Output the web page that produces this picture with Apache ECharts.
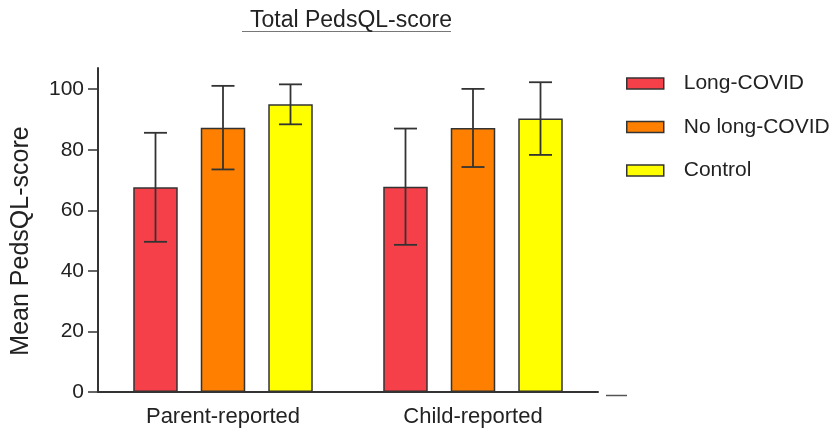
<!DOCTYPE html>
<html>
<head>
<meta charset="utf-8">
<script src="https://cdn.jsdelivr.net/npm/echarts@6/dist/echarts.min.js"></script>
<style>
  html, body { margin: 0; padding: 0; background: #fff; }
  #chart { width: 835px; height: 434px; }
</style>
</head>
<body>
<div id="chart"></div>
<script>
// Total PedsQL-score: mean ± SD per respondent type and group
const categories = ['Parent-reported', 'Child-reported'];
const groupNames = ['Long-COVID', 'No long-COVID', 'Control'];
const longCovidMean = [67.6, 67.8];
const longCovidSD = [18.0, 19.2];
const noLongCovidMean = [87.3, 87.2];
const noLongCovidSD = [13.8, 12.9];
const controlMean = [95.0, 90.3];
const controlSD = [6.6, 12.0];
const yTickValues = [0, 20, 40, 60, 80, 100];

const means = [longCovidMean, noLongCovidMean, controlMean];
const sds = [longCovidSD, noLongCovidSD, controlSD];
const colors = ['#f5404a', '#ff8000', '#ffff00'];

const FONT = "'Liberation Sans', Arial, Helvetica, sans-serif";
const TEXT = '#222';
const LINE = '#333';
const BAR_W = 44.5;
const BAR_GAP = 23;
const CAP_W = 23;

const chart = echarts.init(document.getElementById('chart'), null, { renderer: 'canvas' });

const barSeries = groupNames.map((name, g) => ({
  name: name,
  type: 'bar',
  barWidth: BAR_W,
  barGap: (BAR_GAP / BAR_W * 100).toFixed(1) + '%',
  data: means[g],
  itemStyle: { color: colors[g], borderColor: LINE, borderWidth: 1.5 },
  emphasis: { disabled: true },
  z: 2
}));

const errorSeries = groupNames.map((name, g) => ({
  type: 'custom',
  name: name + ' SD',
  data: categories.map((c, i) => [i, means[g][i], sds[g][i]]),
  encode: { x: 0, y: [1] },
  z: 5,
  silent: true,
  renderItem: function (params, api) {
    const idx = api.value(0);
    const m = api.value(1);
    const sd = api.value(2);
    const dx = (g - 1) * (BAR_W + BAR_GAP);
    const top = api.coord([idx, m + sd]);
    const bot = api.coord([idx, m - sd]);
    const x = top[0] + dx;
    const style = { stroke: LINE, lineWidth: 1.8 };
    return {
      type: 'group',
      children: [
        { type: 'line', shape: { x1: x, y1: top[1], x2: x, y2: bot[1] }, style: style },
        { type: 'line', shape: { x1: x - CAP_W / 2, y1: top[1], x2: x + CAP_W / 2, y2: top[1] }, style: style },
        { type: 'line', shape: { x1: x - CAP_W / 2, y1: bot[1], x2: x + CAP_W / 2, y2: bot[1] }, style: style }
      ]
    };
  }
}));

chart.setOption({
  animation: false,
  backgroundColor: '#fff',
  title: {
    text: 'Total PedsQL-score',
    left: 346,
    textAlign: 'center',
    top: 4,
    textStyle: { fontFamily: FONT, fontSize: 23, fontWeight: 'normal', color: TEXT }
  },
  graphic: [
    // title underline
    { type: 'line', shape: { x1: 242, y1: 31.5, x2: 451, y2: 31.5 }, style: { stroke: '#777', lineWidth: 1 }, silent: true },
    // short dash right of the x axis end
    { type: 'line', shape: { x1: 606, y1: 395.5, x2: 627, y2: 395.5 }, style: { stroke: '#555', lineWidth: 1.5 }, silent: true }
  ],
  legend: {
    data: groupNames,
    orient: 'vertical',
    left: 626,
    top: 73,
    padding: 0,
    itemWidth: 37,
    itemHeight: 11,
    itemGap: 22.5,
    icon: 'rect',
    selectedMode: false,
    itemStyle: { borderColor: LINE, borderWidth: 1.5 },
    textStyle: { fontFamily: FONT, fontSize: 21, color: TEXT, lineHeight: 20, padding: [0, 0, 0, 15] }
  },
  grid: { left: 98, right: 237, top: 68, bottom: 42, containLabel: false },
  xAxis: {
    type: 'category',
    data: categories,
    axisLine: { lineStyle: { color: LINE, width: 2 } },
    axisTick: { alignWithLabel: true, length: 5, lineStyle: { color: LINE, width: 1.5 } },
    axisLabel: { fontFamily: FONT, fontSize: 22, color: TEXT, margin: 14 },
    splitLine: { show: false }
  },
  yAxis: {
    type: 'value',
    min: 0,
    max: 107,
    interval: 20,
    name: 'Mean PedsQL-score',
    nameLocation: 'middle',
    nameGap: 64,
    nameTextStyle: { fontFamily: FONT, fontSize: 25, color: TEXT, padding: [0, 22, 0, 0] },
    axisLine: { show: true, lineStyle: { color: LINE, width: 2 } },
    axisTick: { show: true, length: 10, customValues: yTickValues, lineStyle: { color: LINE, width: 1.5 } },
    axisLabel: {
      fontFamily: FONT, fontSize: 21, color: TEXT, margin: 14,
      customValues: yTickValues,
      formatter: v => (yTickValues.indexOf(v) >= 0 ? String(v) : '')
    },
    splitLine: { show: false }
  },
  series: barSeries.concat(errorSeries)
});
</script>
</body>
</html>
